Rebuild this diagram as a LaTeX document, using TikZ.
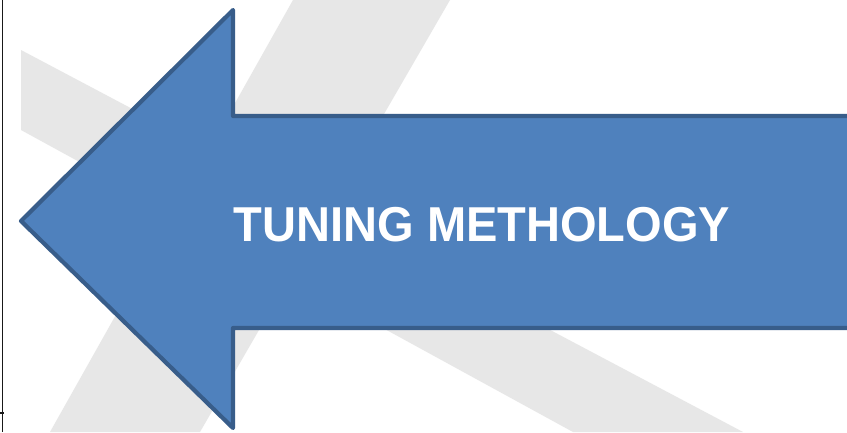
\documentclass[tikz,border=0pt]{standalone}
\usepackage{fontspec}
\setmainfont{Liberation Sans}
\definecolor{arrowfill}{HTML}{4F81BD}
\definecolor{arrowline}{HTML}{385D8A}
\definecolor{swoosh}{HTML}{E7E7E7}
\tikzset{
  bigarrow/.style={fill=arrowfill, draw=arrowline, line width=4.2pt, line join=round},
  swooshband/.style={fill=swoosh},
  frameline/.style={draw=black!90, line width=1.8pt},
  arrowlabel/.style={text=white, font=\bfseries\fontsize{49}{55}\selectfont, inner sep=0pt, anchor=base}
}
\begin{document}
\begin{tikzpicture}[x=1pt,y=-1pt]
\useasboundingbox (0,0) rectangle (847,432);
\clip (0,0) rectangle (847,432);
\fill[white] (0,0) rectangle (847,432);
% background swooshes
\fill[swooshband] (21,50) -- (743,432) -- (573,432) -- (21,130) -- cycle;
\fill[swooshband] (50,432) -- (293,0) -- (450,0) -- (200,432) -- cycle;
% arrow
\draw[bigarrow] (233,10) -- (233,116) -- (880,116) -- (880,328) -- (233,328) -- (233,428) -- (21,221) -- cycle;
\node[arrowlabel] (label) at (482,241) {\scalebox{0.96}[1]{TUNING METHOLOGY}};
% left frame line
\coordinate (ftop) at (2.5,0);
\coordinate (fbot) at (2.5,432);
\coordinate (tickl) at (0,413);
\coordinate (tickr) at (4,413);
\draw[frameline] (ftop) -- (fbot);
\draw[frameline] (tickl) -- (tickr);
\end{tikzpicture}
\end{document}
